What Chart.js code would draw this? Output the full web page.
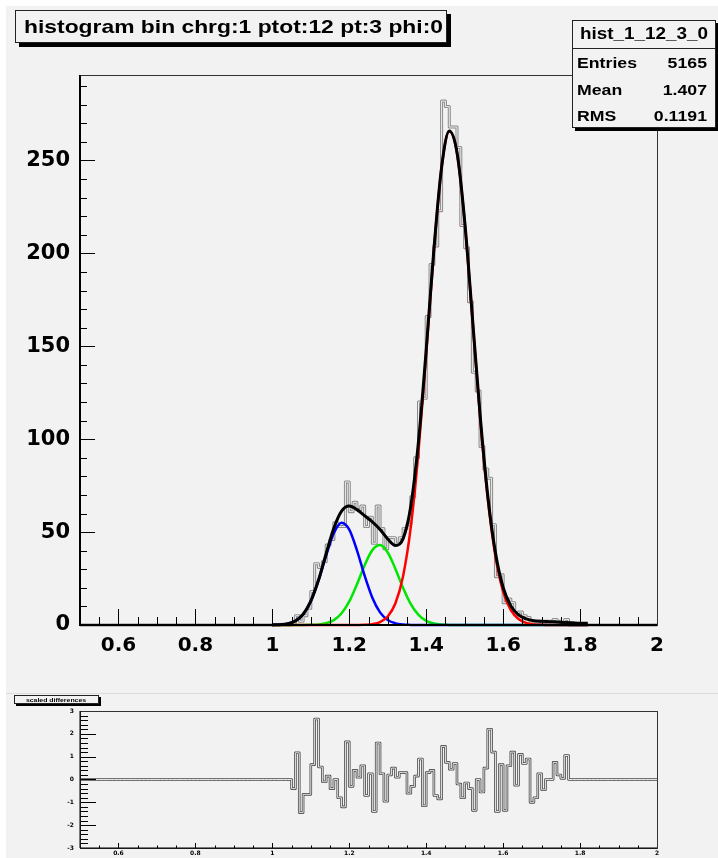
<!DOCTYPE html>
<html lang="en">
<head>
<meta charset="UTF-8">
<title>histogram bin chrg:1 ptot:12 pt:3 phi:0</title>
<script src="https://cdn.jsdelivr.net/npm/chart.js@4.4.1/dist/chart.umd.min.js"></script>
<style>
    html, body { margin: 0; padding: 0; background: #fff; }
    #wrap { position: relative; width: 718px; height: 858px; overflow: hidden; }
    #mainChart { position: absolute; left: 0; top: 0; }
    #diffChart { position: absolute; left: 0; top: 690px; }
</style>
</head>
<body>
<div id="wrap">
    <canvas id="mainChart" width="718" height="690"></canvas>
    <canvas id="diffChart" width="718" height="168"></canvas>
</div>

<script>
// --- binning of the histogram (0.5 .. 2, 150 bins) ---
const xMin = 0.5;
const xMax = 2.0;
const binWidth = 0.01;
const firstBin = 1.05;   // low edge of the first filled bin, bins before/after are empty

// counts per bin, 1.05 .. 1.76
const counts = [
    1, 5, 2, 5, 9, 18, 33, 31, 34, 43, 46, 55, 53, 53, 77,
    61, 66, 62, 64, 53, 58, 44, 64, 52, 41,
    47, 47, 44, 47, 52, 54, 69, 90, 120, 122,
    166, 194, 204, 223, 282, 279, 268, 268, 257, 215,
    203, 174, 136, 126, 96, 84, 79, 54, 26, 27,
    12, 14, 12, 6, 7, 5, 4, 1, 1, 2,
    1, 2, 2, 3, 2, 1, 3
];

// scaled differences per bin, same bins as counts
const scaledDiff = [
    -0.4, 1.17, -1.45, -0.65, -0.65, 0.65, 2.65, 0.55, -0.1, 0.15, -0.4, 0.0, -0.8, -1.2, 1.65,
    -0.3, 0.4, 0.1, 0.6, -0.7, 0.25, -1.4, 1.6, 0.25, -0.95,
    0.2, 0.5, 0.1, 0.3, 0.3, -0.6, -0.3, 0.15, 0.9, -1.15,
    0.3, 0.4, -0.7, -0.85, 1.45, 0.75, 0.45, 0.7, -0.2, -0.8,
    -0.15, -0.4, -1.35, 0.0, -0.55, 0.5, 2.2, 1.2, -1.4, 0.65,
    -1.35, 0.6, 1.2, -0.25, 1.1, 0.7, 0.9, -1.0, -0.8, 0.25,
    -0.45, 0.0, 0.0, 0.75, 0.2, 0.05, 1.05
];

// fitted curves, read at x = 1.00, 1.02, ... 1.82
const fitX = [
    1.00, 1.02, 1.04, 1.06, 1.08, 1.10, 1.12, 1.14, 1.16, 1.18, 1.20,
    1.22, 1.24, 1.26, 1.28, 1.30, 1.32, 1.34, 1.36, 1.38, 1.40,
    1.42, 1.44, 1.46, 1.48, 1.50, 1.52, 1.54, 1.56, 1.58, 1.60,
    1.62, 1.64, 1.66, 1.68, 1.70, 1.72, 1.74, 1.76, 1.78, 1.80, 1.82
];
const fitBlue = [
    0.04, 0.18, 0.69, 2.2, 5.8, 12.8, 23.9, 37.5, 49.5, 55.0, 51.3,
    40.2, 26.5, 14.7, 6.8, 2.7, 0.9, 0.24, 0.05, 0, 0,
    0, 0, 0, 0, 0, 0, 0, 0, 0, 0,
    0, 0, 0, 0, 0, 0, 0, 0, 0, 0, 0
];
const fitGreen = [
    0, 0, 0, 0, 0.01, 0.08, 0.29, 0.95, 2.65, 6.3, 12.7,
    21.9, 32.2, 40.3, 43.0, 39.0, 30.2, 19.9, 11.2, 5.4, 2.2,
    0.76, 0.22, 0.05, 0, 0, 0, 0, 0, 0, 0,
    0, 0, 0, 0, 0, 0, 0, 0, 0, 0, 0
];
const fitRed = [
    0, 0, 0, 0, 0, 0, 0, 0, 0, 0, 0,
    0.03, 0.13, 0.48, 1.6, 4.6, 11.7, 26.4, 52.8, 93.4, 145.8,
    201.4, 246.1, 265.7, 254, 217, 165, 112, 68, 37, 18,
    8, 3.2, 1.1, 0.3, 0.1, 0, 0, 0, 0, 0, 0
];
const fitTotal = [
    0.04, 0.18, 0.69, 2.2, 5.8, 12.9, 24.2, 38.5, 52.2, 61.3, 64.0,
    62.1, 58.8, 55.5, 51.4, 46.3, 42.8, 46.5, 64.1, 98.8, 148.0,
    202.2, 246.3, 265.8, 254.4, 217.5, 166, 113.3, 69.7, 39, 20.2,
    10.3, 5.5, 3.3, 2.3, 2.0, 1.8, 1.6, 1.4, 1.2, 1.0, 0.9
];

// axes
const xTickValues = [0.6, 0.8, 1, 1.2, 1.4, 1.6, 1.8, 2];
const xTickLabels = ['0.6', '0.8', '1', '1.2', '1.4', '1.6', '1.8', '2'];
const yTickValues = [0, 50, 100, 150, 200, 250];
const diffTickValues = [-3, -2, -1, 0, 1, 2, 3];
const yMaxMain = 296;

// texts
const titleText = 'histogram bin chrg:1 ptot:12 pt:3 phi:0';
const statsName = 'hist_1_12_3_0';
const statsRows = [['Entries', '5165'], ['Mean', '1.407'], ['RMS', '0.1191']];
const diffTitle = 'scaled differences';

const BG = '#f2f2f2';
const TICK_FONT = "'DejaVu Sans', sans-serif";
const TEXT_FONT = "'Liberation Sans', Arial, sans-serif";

// histogram as step points on the bin low edges
function stepPoints(values) {
    const n = Math.round((xMax - xMin) / binWidth);
    const off = Math.round((firstBin - xMin) / binWidth);
    const pts = [];
    for (let i = 0; i < n; i++) {
        const v = (i >= off && i < off + values.length) ? values[i - off] : 0;
        pts.push({ x: +(xMin + i * binWidth).toFixed(2), y: v });
    }
    pts.push({ x: xMax, y: pts[pts.length - 1].y });
    return pts;
}
function curvePoints(values) {
    return fitX.map((x, i) => ({ x: x, y: values[i] }));
}

function drawStretched(ctx, text, x, y, sx, align) {
    const w = ctx.measureText(text).width * sx;
    let left = x;
    if (align === 'right') left = x - w;
    else if (align === 'center') left = x - w / 2;
    ctx.save();
    ctx.translate(left, y);
    ctx.scale(sx, 1);
    ctx.textAlign = 'left';
    ctx.fillText(text, 0, 0);
    ctx.restore();
}

function shadowBox(ctx, x, y, w, h, s) {
    ctx.fillStyle = '#000';
    ctx.fillRect(x + s, y + h, w, s);
    ctx.fillRect(x + w, y + s, s, h);
    ctx.fillStyle = BG;
    ctx.fillRect(x, y, w, h);
    ctx.strokeStyle = '#222';
    ctx.lineWidth = 1;
    ctx.strokeRect(x + 0.5, y + 0.5, w - 1, h - 1);
}

// ROOT-like frame: inward ticks, frame box, background
function rootFrame(cfg) {
    return {
        id: 'rootFrame',
        beforeDraw(chart) {
            const ctx = chart.ctx;
            ctx.save();
            ctx.fillStyle = BG;
            ctx.fillRect(0, 0, chart.width, chart.height);
            ctx.fillStyle = '#fff';
            ctx.fillRect(0, 0, 6, chart.height);
            if (cfg.whiteTop) ctx.fillRect(0, 0, chart.width, 6);
            ctx.restore();
        },
        afterDatasetsDraw(chart) {
            const ctx = chart.ctx;
            const a = chart.chartArea;
            const xs = chart.scales.x, ys = chart.scales.y;
            ctx.save();
            ctx.strokeStyle = '#000';
            ctx.lineWidth = 1;
            ctx.beginPath();
            // x ticks, pointing up into the frame
            for (let k = 1; ; k++) {
                const v = xMin + k * 0.05;
                if (v > xMax - 0.001) break;
                const px = Math.round(xs.getPixelForValue(v)) + 0.5;
                const major = Math.abs(v * 5 - Math.round(v * 5)) < 1e-6;
                const len = major ? cfg.xMajor : cfg.xMinor;
                ctx.moveTo(px, a.bottom);
                ctx.lineTo(px, a.bottom - len);
            }
            // y ticks, pointing right into the frame
            for (let v = ys.min + cfg.yStep; v < ys.max - 1e-6; v += cfg.yStep) {
                const py = Math.round(ys.getPixelForValue(v)) + 0.5;
                const major = Math.abs(v / cfg.yMajorStep - Math.round(v / cfg.yMajorStep)) < 1e-6;
                const len = major ? cfg.yMajor : cfg.yMinor;
                ctx.moveTo(a.left, py);
                ctx.lineTo(a.left + len, py);
            }
            ctx.stroke();
            // frame
            ctx.strokeStyle = '#333';
            ctx.strokeRect(Math.round(a.left) + 0.5, Math.round(a.top) + 0.5,
                Math.round(a.right - a.left), Math.round(a.bottom - a.top));
            ctx.strokeStyle = '#000';
            ctx.lineWidth = cfg.axisWidth;
            ctx.beginPath();
            ctx.moveTo(a.left, a.top);
            ctx.lineTo(a.left, a.bottom);
            ctx.lineTo(a.right, a.bottom);
            ctx.stroke();
            ctx.restore();
        }
    };
}

const mainBoxes = {
    id: 'mainBoxes',
    afterDraw(chart) {
        const ctx = chart.ctx;
        ctx.save();
        ctx.textBaseline = 'alphabetic';
        // title box
        shadowBox(ctx, 15, 10, 432, 33, 4);
        ctx.fillStyle = '#000';
        ctx.font = 'bold 19px ' + TEXT_FONT;
        const tw = ctx.measureText(titleText).width;
        drawStretched(ctx, titleText, 24, 33, 419 / tw, 'left');
        // stats box
        shadowBox(ctx, 572, 20, 144, 108, 3);
        ctx.strokeStyle = '#222';
        ctx.beginPath();
        ctx.moveTo(572, 48.5);
        ctx.lineTo(716, 48.5);
        ctx.stroke();
        ctx.fillStyle = '#000';
        ctx.font = 'bold 16px ' + TEXT_FONT;
        drawStretched(ctx, statsName, 644, 39, 1.18, 'center');
        ctx.font = 'bold 15px ' + TEXT_FONT;
        statsRows.forEach((row, i) => {
            const y = 68 + i * 26.5;
            drawStretched(ctx, row[0], 577, y, 1.18, 'left');
            drawStretched(ctx, row[1], 707, y, 1.18, 'right');
        });
        ctx.restore();
    }
};

const diffBoxes = {
    id: 'diffBoxes',
    afterDraw(chart) {
        const ctx = chart.ctx;
        ctx.save();
        ctx.strokeStyle = '#dcdcdc';
        ctx.lineWidth = 1;
        ctx.beginPath();
        ctx.moveTo(6, 3.5);
        ctx.lineTo(718, 3.5);
        ctx.stroke();
        shadowBox(ctx, 14, 5, 85, 9, 2);
        ctx.fillStyle = '#000';
        ctx.font = 'bold 6px ' + TEXT_FONT;
        drawStretched(ctx, diffTitle, 56, 11.5, 1.15, 'center');
        ctx.restore();
    }
};

function setTicks(values) {
    return scale => { scale.ticks = values.map(v => ({ value: v })); };
}
function xLabel(value) {
    const i = xTickValues.findIndex(t => Math.abs(t - value) < 1e-6);
    return i >= 0 ? xTickLabels[i] : '';
}

const lineBase = { pointRadius: 0, fill: false, clip: false, borderJoinStyle: 'round' };
const curveBase = Object.assign({}, lineBase, { cubicInterpolationMode: 'monotone', borderWidth: 2.5 });
const histPts = stepPoints(counts);
const diffPts = stepPoints(scaledDiff);
const noGrid = { display: false, drawTicks: false };

new Chart(document.getElementById('mainChart'), {
    type: 'line',
    data: {
        datasets: [
            Object.assign({}, curveBase, { label: 'total', data: curvePoints(fitTotal), borderColor: '#000', borderWidth: 3, order: 1 }),
            Object.assign({}, curveBase, { label: 'peak 3', data: curvePoints(fitRed), borderColor: '#ff0000', order: 2 }),
            Object.assign({}, curveBase, { label: 'peak 1', data: curvePoints(fitBlue), borderColor: '#0000ff', order: 3 }),
            Object.assign({}, curveBase, { label: 'peak 2', data: curvePoints(fitGreen), borderColor: '#00e600', order: 4 }),
            Object.assign({}, lineBase, { label: 'hist', data: histPts, borderColor: '#efefef', borderWidth: 1, stepped: 'before', order: 5 }),
            Object.assign({}, lineBase, { label: 'hist outline', data: histPts, borderColor: '#8a8a8a', borderWidth: 3, stepped: 'before', order: 6 })
        ]
    },
    options: {
        responsive: false,
        animation: false,
        parsing: false,
        layout: { padding: { left: 0, right: 61, top: 75, bottom: 0 } },
        plugins: { legend: { display: false }, tooltip: { enabled: false } },
        scales: {
            x: {
                type: 'linear', min: xMin, max: xMax,
                afterBuildTicks: setTicks(xTickValues),
                afterFit: s => { s.height = 65; },
                grid: noGrid, border: { display: false },
                ticks: { autoSkip: false, maxRotation: 0, padding: 9, color: '#000',
                         font: { family: TICK_FONT, size: 20, weight: 'bold' }, callback: xLabel }
            },
            y: {
                type: 'linear', min: 0, max: yMaxMain,
                afterBuildTicks: setTicks(yTickValues),
                afterFit: s => { s.width = 80; },
                grid: noGrid, border: { display: false },
                ticks: { padding: 10, color: '#000', font: { family: TICK_FONT, size: 21, weight: 'bold' } }
            }
        }
    },
    plugins: [rootFrame({ whiteTop: true, xMajor: 16, xMinor: 8, yStep: 10, yMajorStep: 50, yMajor: 15, yMinor: 7, axisWidth: 2 }), mainBoxes]
});

new Chart(document.getElementById('diffChart'), {
    type: 'line',
    data: {
        datasets: [
            Object.assign({}, lineBase, { label: 'diff', data: diffPts, borderColor: '#e8e8e8', borderWidth: 1, stepped: 'before', order: 1 }),
            Object.assign({}, lineBase, { label: 'diff outline', data: diffPts, borderColor: '#4a4a4a', borderWidth: 2.6, stepped: 'before', order: 2 })
        ]
    },
    options: {
        responsive: false,
        animation: false,
        parsing: false,
        layout: { padding: { left: 0, right: 61, top: 21, bottom: 0 } },
        plugins: { legend: { display: false }, tooltip: { enabled: false } },
        scales: {
            x: {
                type: 'linear', min: xMin, max: xMax,
                afterBuildTicks: setTicks(xTickValues),
                afterFit: s => { s.height = 10; },
                grid: noGrid, border: { display: false },
                ticks: { autoSkip: false, maxRotation: 0, padding: 2, color: '#000',
                         font: { family: TICK_FONT, size: 6, weight: 'bold' }, callback: xLabel }
            },
            y: {
                type: 'linear', min: -3, max: 3,
                afterBuildTicks: setTicks(diffTickValues),
                afterFit: s => { s.width = 80; },
                grid: noGrid, border: { display: false },
                ticks: { padding: 6, color: '#000', font: { family: TICK_FONT, size: 6, weight: 'bold' } }
            }
        }
    },
    plugins: [rootFrame({ whiteTop: false, xMajor: 5, xMinor: 2.5, yStep: 0.2, yMajorStep: 1, yMajor: 16, yMinor: 8, axisWidth: 1 }), diffBoxes]
});
</script>
</body>
</html>
